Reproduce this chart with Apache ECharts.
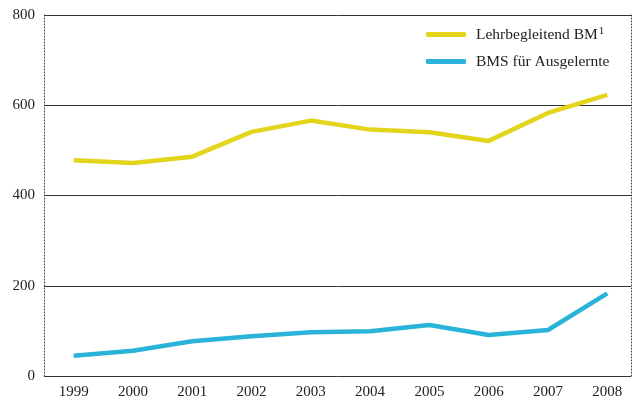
<!DOCTYPE html>
<html>
<head>
<meta charset="utf-8">
<script src="https://cdn.jsdelivr.net/npm/echarts@6/dist/echarts.min.js"></script>
<style>html,body{margin:0;padding:0;background:#fff}#c{width:638px;height:401px}</style>
</head>
<body>
<div id="c"></div>
<script>
const years = [1999, 2000, 2001, 2002, 2003, 2004, 2005, 2006, 2007, 2008];
const lehrbegleitend = [478, 472, 486, 541, 566, 546, 540, 521, 583, 623];
const bmsAusgelernte = [45, 56, 77, 88, 97, 99, 113, 91, 102, 183];
const yTicks = [0, 200, 400, 600, 800];
const seriesNames = ['Lehrbegleitend BM\u00B9', 'BMS für Ausgelernte'];

const font = '"Liberation Serif", "DejaVu Serif", serif';
const chart = echarts.init(document.getElementById('c'), null, {renderer: 'canvas'});
chart.setOption({
  animation: false,
  backgroundColor: '#fff',
  grid: {left: 44, right: 7, top: 15, bottom: 25, containLabel: false},
  legend: {
    orient: 'vertical', left: 421, top: 21,
    itemWidth: 40, itemHeight: 5, itemGap: 10,
    icon: 'roundRect',
    formatter: n => n.replace('\u00B9', '{sup|1}'),
    textStyle: {
      fontFamily: font, fontSize: 15.5, color: '#222', lineHeight: 17, padding: [0, 0, 0, 5],
      rich: {sup: {fontFamily: font, fontSize: 11, color: '#222', verticalAlign: 'top', padding: [0, 0, 6, 1]}}
    },
    data: seriesNames
  },
  xAxis: {
    type: 'value', min: 1998.5, max: 2008.4, interval: 0.1,
    axisLine: {show: false}, axisTick: {show: false}, splitLine: {show: false},
    axisLabel: {
      margin: 9, fontFamily: font, fontSize: 15, color: '#222',
      formatter: v => {
        const r = Math.round(v);
        return (Math.abs(v - r) < 1e-6 && years.indexOf(r) >= 0) ? String(r) : '';
      }
    }
  },
  yAxis: [{
    type: 'value', min: yTicks[0], max: yTicks[yTicks.length - 1], interval: 200,
    axisLine: {show: true, lineStyle: {color: '#444', type: [1, 2], width: 1}},
    axisTick: {show: false},
    splitLine: {show: true, lineStyle: {color: '#333', width: 1}},
    axisLabel: {margin: 9, fontFamily: font, fontSize: 15, color: '#222'}
  }, {
    type: 'value', position: 'right', min: 0, max: 800, interval: 200,
    axisLine: {show: true, lineStyle: {color: '#444', type: [1, 2], width: 1}},
    axisTick: {show: false}, splitLine: {show: false}, axisLabel: {show: false}
  }],
  series: [{
    name: seriesNames[0], type: 'line', symbol: 'none',
    data: years.map((y, i) => [y, lehrbegleitend[i]]),
    lineStyle: {color: '#E3D41C', width: 4.5}, itemStyle: {color: '#E3D41C'}
  }, {
    name: seriesNames[1], type: 'line', symbol: 'none',
    data: years.map((y, i) => [y, bmsAusgelernte[i]]),
    lineStyle: {color: '#2AB3D9', width: 4.5}, itemStyle: {color: '#2AB3D9'}
  }]
});
</script>
</body>
</html>
